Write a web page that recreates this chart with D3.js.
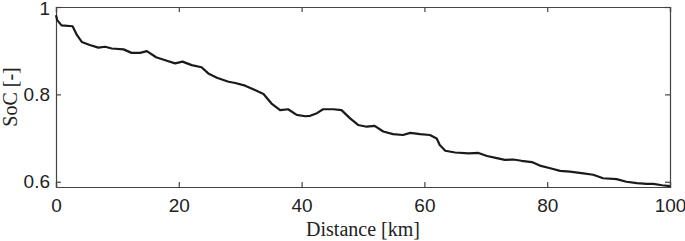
<!DOCTYPE html>
<html>
<head>
<meta charset="utf-8">
<script src="https://cdn.jsdelivr.net/npm/d3@7"></script>
<style>
  body { margin: 0; background: #fff; }
  svg { display: block; }
</style>
</head>
<body>
<div id="chart"></div>
<script>
// distance [km] and state of charge
const distance = [0, 0.2, 0.9, 2.7, 3.4, 4.2, 5.5, 6.9, 8.0, 9.1, 11.0, 12.3, 13.7, 14.8, 16.3, 17.8, 19.4,
  20.6, 22.1, 23.7, 24.8, 26.2, 28.1, 29.2, 30.8, 32.4, 33.8, 35.1, 36.5, 37.8, 39.2, 40.6,
  41.4, 42.5, 43.5, 45.2, 46.5, 47.9, 49.2, 50.6, 51.9, 53.3, 54.9, 56.5, 57.7, 59.3, 60.9,
  62.0, 62.5, 63.4, 65.0, 67.2, 68.8, 70.2, 71.8, 73.1, 74.5, 75.8, 77.5, 78.8, 80.5,
  82.1, 83.7, 85.9, 87.5, 89.1, 91.3, 92.9, 94.6, 96.2, 97.3, 98.7, 100];
const soc = [0.981, 0.970, 0.958, 0.956, 0.936, 0.920, 0.913, 0.907, 0.909, 0.905, 0.903, 0.895, 0.895, 0.899, 0.885, 0.878, 0.871,
  0.875, 0.867, 0.862, 0.848, 0.838, 0.829, 0.826, 0.820, 0.810, 0.801, 0.779, 0.764, 0.766, 0.753, 0.750,
  0.751, 0.757, 0.766, 0.766, 0.764, 0.745, 0.730, 0.726, 0.728, 0.715, 0.709, 0.707, 0.712, 0.709, 0.707,
  0.699, 0.684, 0.671, 0.667, 0.665, 0.666, 0.659, 0.654, 0.650, 0.651, 0.648, 0.645, 0.637, 0.631,
  0.625, 0.623, 0.619, 0.616, 0.608, 0.606, 0.600, 0.597, 0.595, 0.595, 0.592, 0.590];
const xTicks = [0, 20, 40, 60, 80, 100];
const yTicks = [0.6, 0.8, 1];

const data = distance.map((d, i) => ({ x: d, y: soc[i] }));

const width = 685, height = 241;
const margin = { top: 7, right: 15, bottom: 54, left: 56 };
const w = width - margin.left - margin.right;
const h = height - margin.top - margin.bottom;

const svg = d3.select("#chart").append("svg")
  .attr("width", width)
  .attr("height", height);

const g = svg.append("g")
  .attr("transform", `translate(${margin.left},${margin.top})`);

const x = d3.scaleLinear().domain([0, 100]).range([0, w]);
const y = d3.scaleLinear().domain([0.588, 1]).range([h, 0]);

// ticks point inward on all four sides
const tickFont = "'Liberation Sans', Arial, sans-serif";

g.append("g")
  .attr("transform", `translate(0,${h})`)
  .call(d3.axisBottom(x).tickValues(xTicks).tickSize(-5).tickPadding(12).tickFormat(d3.format("d")))
  .call(s => s.selectAll("text").style("font-family", tickFont).style("font-size", "19px").attr("fill", "#222"));

g.append("g")
  .call(d3.axisTop(x).tickValues(xTicks).tickSize(-5).tickFormat(""));

g.append("g")
  .call(d3.axisLeft(y).tickValues(yTicks).tickSize(-5).tickPadding(6).tickFormat(d => d === 1 ? "1" : d3.format(".1f")(d)))
  .call(s => s.selectAll("text").style("font-family", tickFont).style("font-size", "19px").attr("fill", "#222"))
  // the top label sits right at the edge; keep it just inside
  .call(s => s.selectAll(".tick").filter(d => d === 1).select("text").attr("y", 1.5));

g.append("g")
  .attr("transform", `translate(${w},0)`)
  .call(d3.axisRight(y).tickValues(yTicks).tickSize(-5).tickFormat(""));

g.selectAll(".domain").attr("stroke", "#444").attr("stroke-width", 1.2);
g.selectAll(".tick line").attr("stroke", "#444").attr("stroke-width", 1.2);

const line = d3.line()
  .x(d => x(d.x))
  .y(d => y(d.y));

g.append("path")
  .datum(data)
  .attr("fill", "none")
  .attr("stroke", "#1a1a1a")
  .attr("stroke-width", 2.2)
  .attr("stroke-linejoin", "round")
  .attr("d", line);

// axis titles
const titleFont = "'Liberation Serif', 'Times New Roman', serif";

svg.append("text")
  .attr("x", margin.left + w / 2)
  .attr("y", 236)
  .attr("text-anchor", "middle")
  .style("font-family", titleFont)
  .style("font-size", "20px")
  .attr("fill", "#222")
  .text("Distance [km]");

svg.append("text")
  .attr("transform", `translate(17,${margin.top + h / 2}) rotate(-90)`)
  .attr("text-anchor", "middle")
  .style("font-family", titleFont)
  .style("font-size", "20px")
  .attr("fill", "#222")
  .text("SoC [-]");
</script>
</body>
</html>
